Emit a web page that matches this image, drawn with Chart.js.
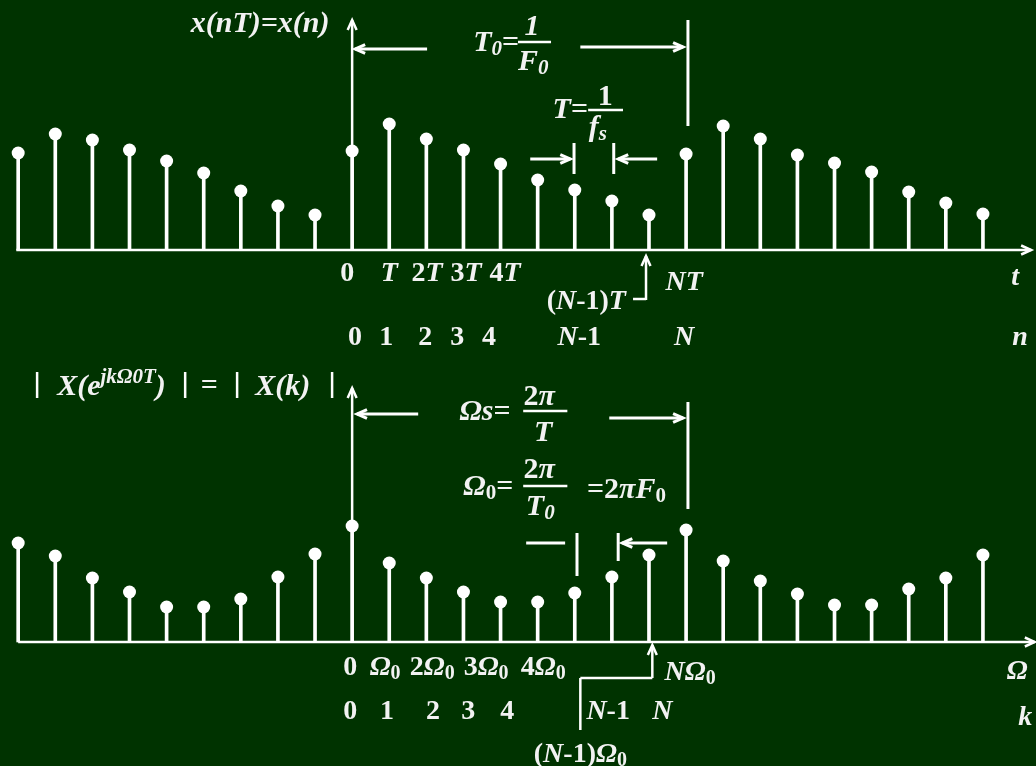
<!DOCTYPE html>
<html>
<head>
<meta charset="utf-8">
<script src="https://cdn.jsdelivr.net/npm/chart.js@4.4.0/dist/chart.umd.min.js"></script>
<style>
  html, body { margin: 0; padding: 0; background: #003300; }
  #wrap { position: relative; width: 1036px; height: 766px; }
</style>
</head>
<body>
<div id="wrap"><canvas id="grafica"></canvas></div>
<script>
// sample index n (and k), N = 9
const sampleIdx = [-9, -8, -7, -6, -5, -4, -3, -2, -1, 0, 1, 2, 3, 4, 5, 6, 7, 8, 9, 10, 11, 12, 13, 14, 15, 16, 17];
// x(n), periodic with period N
const xnValues = [0.97, 1.16, 1.10, 1.00, 0.89, 0.77, 0.59, 0.44, 0.35,
                  0.99, 1.26, 1.11, 1.00, 0.86, 0.70, 0.60, 0.49, 0.35,
                  0.96, 1.24, 1.11, 0.95, 0.87, 0.78, 0.58, 0.47, 0.36];
// |X(k)|
const xkValues = [0.99, 0.86, 0.64, 0.50, 0.35, 0.35, 0.43, 0.65, 0.88,
                  1.16, 0.79, 0.64, 0.50, 0.40, 0.40, 0.49, 0.65, 0.87,
                  1.12, 0.81, 0.61, 0.48, 0.37, 0.37, 0.53, 0.64, 0.87];

// tick labels ("_" = subscript of next char)
const tTicks = ['0', 'T', '2T', '3T', '4T'];
const nTicks = ['0', '1', '2', '3', '4'];
const wTicks = ['0', 'Ω_0', '2Ω_0', '3Ω_0', '4Ω_0'];
const kTicks = ['0', '1', '2', '3', '4'];

// where the tick labels sit, in sample units
const tTickPos = [-0.13, 1.0, 2.02, 3.07, 4.12];
const nTickPos = [0.08, 0.92, 1.97, 2.83, 3.69];
const wTickPos = [-0.05, 0.89, 2.16, 3.61, 5.15];
const kTickPos = [-0.05, 0.94, 2.18, 3.13, 4.18];

const TXT = '#f2f2f2';
const FT = 28;   // tick labels
const FA = 30;   // annotations

function fnt(sz, it) {
    return (it ? 'italic ' : '') + 'bold ' + sz + 'px "Liberation Serif", "Times New Roman", serif';
}

// turn "2Ω_0" into styled pieces: letters italic, digits upright
function parse(str) {
    const segs = [];
    for (let i = 0; i < str.length; i++) {
        let c = str[i], f = '';
        if (c === '_') { i++; c = str[i]; f = 's'; }
        if (/[A-Za-zΩπ]/.test(c)) f += 'i';
        segs.push([c, f]);
    }
    return segs;
}

function rich(ctx, segs, x, y, sz, align) {
    const parts = segs.map(([t, f = '']) => {
        const s = (f.includes('s') || f.includes('p')) ? Math.round(sz * 0.7) : sz;
        ctx.font = fnt(s, f.includes('i'));
        return { t, f, s, w: ctx.measureText(t).width };
    });
    const total = parts.reduce((a, p) => a + p.w, 0);
    let cx = align === 'left' ? x : (align === 'right' ? x - total : x - total / 2);
    ctx.textAlign = 'left';
    ctx.textBaseline = 'middle';
    parts.forEach(p => {
        ctx.font = fnt(p.s, p.f.includes('i'));
        const dy = p.f.includes('s') ? sz * 0.22 : (p.f.includes('p') ? -sz * 0.3 : 0);
        ctx.fillText(p.t, cx, y + dy);
        cx += p.w;
    });
}

function arrow(ctx, x1, y1, x2, y2, head) {
    ctx.beginPath(); ctx.moveTo(x1, y1); ctx.lineTo(x2, y2); ctx.stroke();
    if (head === false) return;
    const a = Math.atan2(y2 - y1, x2 - x1), L = 11, W = 0.42;
    ctx.beginPath();
    ctx.moveTo(x2 - L * Math.cos(a - W), y2 - L * Math.sin(a - W));
    ctx.lineTo(x2, y2);
    ctx.lineTo(x2 - L * Math.cos(a + W), y2 - L * Math.sin(a + W));
    ctx.stroke();
}

const dibujo = {
    id: 'dibujo',
    beforeDatasetsDraw(chart) {
        const ctx = chart.ctx, X = chart.scales.x, Y1 = chart.scales.y, Y2 = chart.scales.y2;
        ctx.save();
        ctx.strokeStyle = '#ffffff';
        ctx.lineWidth = 2.5;
        // horizontal axes
        arrow(ctx, X.getPixelForValue(-9.05), Y1.getPixelForValue(0), X.getPixelForValue(18.3), Y1.getPixelForValue(0));
        arrow(ctx, X.getPixelForValue(-9.0), Y2.getPixelForValue(0), X.getPixelForValue(18.4), Y2.getPixelForValue(0));
        // vertical axes
        arrow(ctx, X.getPixelForValue(0), Y1.getPixelForValue(0), X.getPixelForValue(0), Y1.getPixelForValue(2.30));
        arrow(ctx, X.getPixelForValue(0), Y2.getPixelForValue(0), X.getPixelForValue(0), Y2.getPixelForValue(2.54));
        ctx.restore();
    },
    afterDatasetsDraw(chart) {
        const ctx = chart.ctx, X = chart.scales.x, Y1 = chart.scales.y, Y2 = chart.scales.y2;
        const px = v => X.getPixelForValue(v);
        ctx.save();
        ctx.strokeStyle = '#ffffff';
        ctx.fillStyle = TXT;
        ctx.lineWidth = 3;

        const hline = (x1, x2, v, Y, head) => arrow(ctx, px(x1), Y.getPixelForValue(v), px(x2), Y.getPixelForValue(v), head);
        const vline = (x, v1, v2, Y, head) => arrow(ctx, px(x), Y.getPixelForValue(v1), px(x), Y.getPixelForValue(v2), head);
        const txt = (s, x, v, Y, sz, al) => rich(ctx, typeof s === 'string' ? parse(s) : s, px(x), Y.getPixelForValue(v), sz, al);
        const frac = (x1, x2, v, Y) => { ctx.lineWidth = 2.5; hline(x1, x2, v, Y, false); ctx.lineWidth = 3; };

        // ---------- top: x(nT) ----------
        txt([['x(nT)=x(n)', 'i']], -2.48, 2.26, Y1, FA, 'center');
        // T0 = 1/F0 span
        hline(2.02, 0.08, 2.01, Y1);
        hline(6.15, 8.92, 2.03, Y1);
        vline(9.05, 2.30, 1.24, Y1, false);
        txt([['T', 'i'], ['0', 'si'], ['=', '']], 3.88, 2.07, Y1, FA, 'center');
        txt([['1', 'i']], 4.85, 2.23, Y1, FA, 'center');
        frac(4.47, 5.36, 2.08, Y1);
        txt([['F', 'i'], ['0', 'si']], 4.88, 1.88, Y1, FA, 'center');
        // T = 1/fs
        txt([['T', 'i'], ['=', '']], 5.88, 1.40, Y1, FA, 'center');
        txt('1', 6.82, 1.53, Y1, FA, 'center');
        frac(6.36, 7.30, 1.40, Y1);
        txt([['f', 'i'], ['s', 'si']], 6.62, 1.22, Y1, FA, 'center');
        hline(4.80, 5.88, 0.91, Y1);
        vline(5.98, 1.07, 0.76, Y1, false);
        vline(7.05, 1.07, 0.76, Y1, false);
        hline(8.22, 7.17, 0.91, Y1);
        // ticks
        tTicks.forEach((s, i) => txt(s, tTickPos[i], -0.24, Y1, FT, 'center'));
        nTicks.forEach((s, i) => txt(s, nTickPos[i], -0.88, Y1, FT, 'center'));
        txt('(N-1)T', 6.31, -0.52, Y1, FT, 'center');
        ctx.lineWidth = 2.5;
        hline(7.57, 7.92, -0.49, Y1, false);
        vline(7.92, -0.50, -0.06, Y1);
        ctx.lineWidth = 3;
        txt('NT', 8.95, -0.33, Y1, FT, 'center');
        txt('N-1', 6.12, -0.88, Y1, FT, 'center');
        txt('N', 8.95, -0.88, Y1, FT, 'center');
        txt('t', 17.87, -0.28, Y1, FT, 'center');
        txt('n', 18.0, -0.88, Y1, FT, 'center');

        // ---------- bottom: |X(k)| ----------
        ctx.lineWidth = 2.5;
        [-8.49, -4.50, -3.10, -0.54].forEach(x => vline(x, 2.70, 2.44, Y2, false));
        ctx.lineWidth = 3;
        txt([['X(e', 'i'], ['jkΩ0T', 'pi'], [')', 'i']], -7.95, 2.55, Y2, FA, 'left');
        txt([['=', '']], -3.85, 2.56, Y2, FA, 'center');
        txt([['X(k)', 'i']], -2.61, 2.55, Y2, FA, 'left');
        // Ωs = 2π/T span
        hline(1.78, 0.13, 2.28, Y2);
        hline(6.93, 8.92, 2.24, Y2);
        vline(9.05, 2.40, 1.33, Y2, false);
        txt([['Ω', 'i'], ['s', 'i'], ['=', '']], 3.58, 2.30, Y2, FA, 'center');
        txt('2π', 5.04, 2.45, Y2, FA, 'center');
        frac(4.61, 5.80, 2.31, Y2);
        txt('T', 5.15, 2.09, Y2, FA, 'center');
        // Ω0 = 2π/T0 = 2πF0
        txt([['Ω', 'i'], ['0', 's'], ['=', '']], 3.67, 1.55, Y2, FA, 'center');
        txt('2π', 5.04, 1.72, Y2, FA, 'center');
        frac(4.61, 5.80, 1.56, Y2);
        txt([['T', 'i'], ['0', 'si']], 5.07, 1.35, Y2, FA, 'center');
        txt([['=2', ''], ['π', 'i'], ['F', 'i'], ['0', 's']], 6.33, 1.52, Y2, FA, 'left');
        hline(4.69, 5.74, 0.99, Y2, false);
        vline(6.06, 1.09, 0.66, Y2, false);
        vline(7.17, 1.09, 0.81, Y2, false);
        hline(8.49, 7.28, 0.99, Y2);
        // ticks
        wTicks.forEach((s, i) => txt(s, wTickPos[i], -0.26, Y2, FT, 'center'));
        kTicks.forEach((s, i) => txt(s, kTickPos[i], -0.70, Y2, FT, 'center'));
        ctx.lineWidth = 2.5;
        vline(6.15, -0.88, -0.36, Y2, false);
        hline(6.15, 8.09, -0.36, Y2, false);
        vline(8.09, -0.36, -0.03, Y2);
        ctx.lineWidth = 3;
        txt('NΩ_0', 9.11, -0.31, Y2, FT, 'center');
        txt('N-1', 6.90, -0.70, Y2, FT, 'center');
        txt('N', 8.36, -0.70, Y2, FT, 'center');
        txt('(N-1)Ω_0', 6.15, -1.13, Y2, FT, 'center');
        txt('Ω', 17.92, -0.30, Y2, FT, 'center');
        txt('k', 18.14, -0.76, Y2, FT, 'center');
        ctx.restore();
    }
};

const pts = vals => sampleIdx.map((n, i) => ({ x: n, y: vals[i] }));

const ctx = document.getElementById('grafica').getContext('2d');
new Chart(ctx, {
    type: 'bar',
    data: {
        datasets: [
            { type: 'line', data: pts(xnValues), yAxisID: 'y', showLine: false, pointRadius: 6.5,
              pointBackgroundColor: '#ffffff', pointBorderWidth: 0, order: 0 },
            { type: 'line', data: pts(xkValues), yAxisID: 'y2', showLine: false, pointRadius: 6.5,
              pointBackgroundColor: '#ffffff', pointBorderWidth: 0, order: 0 },
            { data: pts(xnValues), yAxisID: 'y', backgroundColor: '#ffffff', barThickness: 3,
              grouped: false, order: 1 },
            { data: pts(xkValues), yAxisID: 'y2', backgroundColor: '#ffffff', barThickness: 3,
              grouped: false, order: 1 }
        ]
    },
    options: {
        responsive: true,
        maintainAspectRatio: false,
        animation: false,
        layout: { padding: 0, autoPadding: false },
        plugins: { legend: { display: false }, tooltip: { enabled: false } },
        scales: {
            x: { type: 'linear', min: -9.49, max: 18.43, offset: false, display: false },
            y: { min: -5.16, max: 2.50, display: false },
            y2: { min: -1.24, max: 6.42, display: false }
        }
    },
    plugins: [dibujo]
});
</script>
</body>
</html>
